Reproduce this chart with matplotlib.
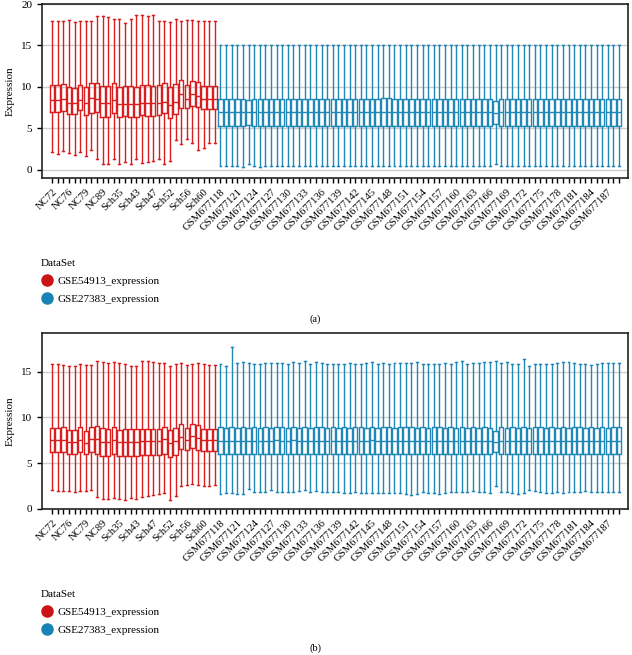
import matplotlib.pyplot as plt
from matplotlib.lines import Line2D

plt.rcParams['font.family'] = ['Liberation Serif', 'DejaVu Serif']

red = '#d81e1e'
blue = '#1f88b6'

nc_names = ['NC72', 'NC73', 'NC74', 'NC76', 'NC77', 'NC78', 'NC79', 'NC80', 'NC85',
            'NC89', 'NC90', 'NC91']
sch_names = ['Sch35', 'Sch36', 'Sch41', 'Sch43', 'Sch44', 'Sch45', 'Sch47', 'Sch48', 'Sch50',
             'Sch52', 'Sch53', 'Sch54', 'Sch56', 'Sch57', 'Sch58', 'Sch60', 'Sch61', 'Sch62']
gsm_names = ['GSM%d' % n for n in range(677118, 677190)]
samples = nc_names + sch_names + gsm_names
group_names = ['GSE54913_expression', 'GSE27383_expression']

# ---- panel (a): GSE54913 (30 samples) ----
a_red_hi = [18.0, 17.9, 18.0, 18.1, 17.8, 18.0, 17.9, 17.9, 18.55, 18.5, 18.45, 18.2, 18.2, 17.75, 18.15,
            18.65, 18.7, 18.55, 18.7, 18.0, 18.0, 17.85, 18.2, 18.0, 18.1, 18.1, 18.0, 17.9, 18.0, 18.0]
a_red_q3 = [10.25, 10.25, 10.3, 9.95, 9.9, 10.25, 9.95, 10.45, 10.5, 10.15, 10.1, 10.45, 10.0, 10.1, 10.1,
            10.0, 10.2, 10.25, 10.15, 10.2, 10.45, 9.95, 10.3, 10.85, 10.25, 10.7, 10.6, 10.1, 10.1, 10.1]
a_red_med = [8.4, 8.4, 8.5, 8.1, 8.1, 8.45, 8.1, 8.6, 8.5, 8.0, 8.0, 8.45, 7.9, 7.9, 7.9,
             7.9, 8.0, 8.0, 8.0, 8.1, 8.2, 7.8, 8.2, 9.1, 8.55, 9.1, 8.9, 8.5, 8.5, 8.5]
a_red_q1 = [7.0, 7.0, 7.1, 6.75, 6.75, 7.15, 6.6, 6.9, 7.0, 6.4, 6.4, 6.9, 6.35, 6.45, 6.4,
            6.35, 6.6, 6.5, 6.5, 6.6, 6.8, 6.25, 6.75, 7.45, 7.4, 7.7, 7.6, 7.35, 7.35, 7.35]
a_red_lo = [2.1, 1.9, 2.3, 2.0, 1.8, 2.1, 1.7, 2.4, 1.3, 0.7, 0.7, 1.3, 0.7, 0.9, 0.7,
            1.3, 0.8, 0.9, 1.0, 1.3, 0.7, 1.1, 3.6, 3.1, 3.7, 3.2, 2.4, 2.6, 3.2, 3.2]

# ---- panel (a): GSE27383 (72 samples) ----
a_blue_hi = [15.1, 15.1, 15.1, 15.1, 15.1, 15.05, 15.1, 15.1, 15.1, 15.1, 15.1, 15.1,
             15.1, 15.1, 15.1, 15.1, 15.1, 15.1, 15.1, 15.1, 15.1, 15.1, 15.1, 15.1,
             15.1, 15.1, 15.1, 15.1, 15.1, 15.1, 15.1, 15.1, 15.1, 15.1, 15.1, 15.1,
             15.1, 15.1, 15.1, 15.1, 15.1, 15.1, 15.1, 15.1, 15.1, 15.1, 15.1, 15.1,
             15.1, 15.05, 15.1, 15.1, 15.1, 15.1, 15.1, 15.1, 15.1, 15.1, 15.1, 15.1,
             15.1, 15.1, 15.1, 15.1, 15.1, 15.1, 15.1, 15.1, 15.1, 15.1, 15.1, 15.1]
a_blue_q3 = [8.55, 8.55, 8.55, 8.55, 8.55, 8.4, 8.55, 8.55, 8.55, 8.55, 8.55, 8.55,
             8.55, 8.55, 8.55, 8.55, 8.55, 8.55, 8.55, 8.55, 8.55, 8.55, 8.55, 8.55,
             8.55, 8.55, 8.55, 8.55, 8.55, 8.6, 8.6, 8.55, 8.55, 8.55, 8.55, 8.55,
             8.55, 8.55, 8.55, 8.55, 8.55, 8.55, 8.55, 8.55, 8.55, 8.55, 8.55, 8.55,
             8.55, 8.3, 8.55, 8.55, 8.55, 8.55, 8.55, 8.55, 8.55, 8.55, 8.55, 8.55,
             8.55, 8.55, 8.55, 8.55, 8.55, 8.55, 8.55, 8.55, 8.55, 8.55, 8.55, 8.55]
a_blue_med = [7.0, 7.0, 7.0, 7.0, 7.0, 6.95, 7.0, 7.0, 7.0, 7.0, 7.0, 7.0,
              7.0, 7.0, 7.0, 7.0, 7.0, 7.0, 7.0, 7.0, 7.0, 7.0, 7.0, 7.0,
              7.0, 7.0, 7.0, 7.0, 7.0, 7.0, 7.0, 7.0, 7.0, 7.0, 7.0, 7.0,
              7.0, 7.0, 7.0, 7.0, 7.0, 7.0, 7.0, 7.0, 7.0, 7.0, 7.0, 7.0,
              7.0, 6.85, 7.0, 7.0, 7.0, 7.0, 7.0, 7.0, 7.0, 7.0, 7.0, 7.0,
              7.0, 7.0, 7.0, 7.0, 7.0, 7.0, 7.0, 7.0, 7.0, 7.0, 7.0, 7.0]
a_blue_q1 = [5.3, 5.3, 5.3, 5.3, 5.3, 5.35, 5.3, 5.3, 5.3, 5.3, 5.3, 5.3,
             5.3, 5.3, 5.3, 5.3, 5.3, 5.3, 5.3, 5.3, 5.3, 5.3, 5.3, 5.3,
             5.3, 5.3, 5.3, 5.3, 5.3, 5.3, 5.3, 5.3, 5.3, 5.3, 5.3, 5.3,
             5.3, 5.3, 5.3, 5.3, 5.3, 5.3, 5.3, 5.3, 5.3, 5.3, 5.3, 5.3,
             5.3, 5.5, 5.3, 5.3, 5.3, 5.3, 5.3, 5.3, 5.3, 5.3, 5.3, 5.3,
             5.3, 5.3, 5.3, 5.3, 5.3, 5.3, 5.3, 5.3, 5.3, 5.3, 5.3, 5.3]
a_blue_lo = [0.45, 0.45, 0.5, 0.45, 0.35, 0.75, 0.45, 0.3, 0.45, 0.5, 0.45, 0.45,
             0.45, 0.5, 0.45, 0.45, 0.5, 0.45, 0.45, 0.45, 0.5, 0.45, 0.45, 0.5,
             0.45, 0.45, 0.5, 0.45, 0.45, 0.45, 0.5, 0.45, 0.45, 0.45, 0.5, 0.45,
             0.45, 0.5, 0.45, 0.45, 0.5, 0.45, 0.45, 0.5, 0.45, 0.45, 0.5, 0.45,
             0.45, 0.7, 0.45, 0.45, 0.4, 0.45, 0.5, 0.45, 0.45, 0.5, 0.45, 0.45,
             0.45, 0.5, 0.45, 0.45, 0.5, 0.45, 0.45, 0.5, 0.45, 0.45, 0.5, 0.45]

# ---- panel (b): GSE54913 ----
b_red_hi = [15.8, 15.8, 15.7, 15.6, 15.65, 15.8, 15.7, 15.7, 16.15, 16.0, 15.9, 16.0, 15.9, 15.8, 15.65,
            15.55, 16.15, 16.15, 16.0, 15.95, 15.9, 15.65, 15.8, 15.9, 15.7, 15.8, 15.9, 15.8, 15.7, 15.7]
b_red_q3 = [8.85, 8.85, 8.95, 8.6, 8.6, 8.9, 8.55, 9.0, 9.05, 8.8, 8.75, 8.95, 8.65, 8.7, 8.7,
            8.7, 8.75, 8.7, 8.7, 8.75, 9.0, 8.65, 8.85, 9.25, 8.85, 9.3, 9.15, 8.75, 8.75, 8.75]
b_red_med = [7.5, 7.5, 7.55, 7.35, 7.3, 7.5, 7.25, 7.6, 7.6, 7.35, 7.3, 7.55, 7.3, 7.3, 7.3,
             7.3, 7.4, 7.4, 7.4, 7.4, 7.6, 7.25, 7.4, 7.9, 7.55, 7.95, 7.8, 7.5, 7.5, 7.5]
b_red_q1 = [6.2, 6.2, 6.2, 6.05, 6.0, 6.2, 6.0, 6.2, 6.05, 5.75, 5.75, 5.95, 5.75, 5.75, 5.75,
            5.8, 5.85, 5.85, 5.85, 5.85, 6.0, 5.7, 5.9, 6.6, 6.45, 6.65, 6.45, 6.3, 6.3, 6.3]
b_red_lo = [2.1, 2.0, 2.0, 2.0, 1.9, 2.0, 2.0, 2.1, 1.3, 1.1, 1.1, 1.25, 1.1, 1.0, 1.25,
            1.1, 1.3, 1.45, 1.5, 1.6, 1.7, 1.0, 1.45, 2.55, 2.6, 2.75, 2.6, 2.55, 2.55, 2.6]

# ---- panel (b): GSE27383 ----
b_blue_hi = [15.85, 15.65, 17.7, 15.95, 16.0, 15.9, 15.85, 15.8, 15.95, 15.9, 15.95, 15.95,
             15.85, 16.0, 15.95, 16.1, 15.85, 16.0, 15.95, 15.85, 15.85, 15.85, 15.85, 15.95,
             15.85, 15.8, 15.95, 16.0, 15.85, 15.95, 15.85, 15.95, 15.95, 15.95, 15.95, 16.0,
             15.85, 15.85, 15.8, 15.85, 15.95, 15.85, 16.0, 16.1, 15.85, 15.95, 15.95, 16.0,
             16.0, 16.15, 15.95, 16.0, 15.85, 15.8, 16.4, 15.65, 15.85, 15.85, 15.8, 15.85,
             15.95, 16.0, 16.0, 15.95, 15.85, 15.8, 15.75, 15.8, 15.95, 15.95, 15.95, 15.95]
b_blue_q3 = [8.95, 8.85, 8.95, 8.85, 8.95, 8.8, 8.9, 8.85, 8.95, 8.85, 8.95, 8.9,
             8.85, 8.95, 8.85, 8.95, 8.85, 8.9, 8.95, 8.85, 8.9, 8.85, 8.95, 8.85,
             8.95, 8.9, 8.85, 8.95, 8.85, 8.9, 8.95, 8.85, 8.95, 9.0, 8.95, 8.85,
             8.95, 8.85, 8.9, 8.95, 8.85, 8.9, 8.85, 8.9, 8.85, 8.9, 8.85, 8.9,
             8.85, 8.5, 8.9, 8.85, 8.95, 8.85, 8.95, 8.85, 8.9, 8.95, 8.85, 8.9,
             8.85, 8.95, 8.85, 8.9, 8.95, 8.85, 8.9, 8.85, 8.9, 8.85, 8.9, 8.9]
b_blue_med = [7.45, 7.45, 7.45, 7.45, 7.45, 7.4, 7.45, 7.45, 7.45, 7.45, 7.5, 7.45,
              7.45, 7.5, 7.45, 7.45, 7.45, 7.45, 7.45, 7.4, 7.45, 7.45, 7.45, 7.45,
              7.45, 7.45, 7.45, 7.5, 7.45, 7.45, 7.45, 7.45, 7.45, 7.45, 7.45, 7.45,
              7.45, 7.45, 7.45, 7.45, 7.45, 7.45, 7.45, 7.45, 7.45, 7.45, 7.45, 7.45,
              7.45, 7.3, 7.45, 7.45, 7.45, 7.45, 7.45, 7.45, 7.45, 7.45, 7.45, 7.45,
              7.45, 7.45, 7.45, 7.45, 7.45, 7.45, 7.45, 7.45, 7.45, 7.45, 7.45, 7.45]
b_blue_q1 = [6.0, 6.0, 6.0, 6.0, 6.0, 6.05, 6.0, 6.0, 6.0, 6.0, 6.0, 6.0,
             6.0, 6.0, 6.0, 6.0, 6.0, 6.0, 6.0, 6.05, 6.0, 6.0, 6.0, 6.0,
             6.0, 6.0, 6.0, 6.0, 6.0, 6.0, 6.0, 6.0, 6.0, 6.0, 6.0, 6.0,
             6.0, 6.0, 6.0, 6.0, 6.0, 6.0, 6.0, 6.0, 6.0, 6.0, 6.0, 6.0,
             6.0, 6.2, 6.0, 6.0, 6.0, 6.0, 6.0, 6.0, 6.0, 6.0, 6.0, 6.0,
             6.0, 6.0, 6.0, 6.0, 6.0, 6.0, 6.0, 6.0, 6.0, 6.0, 6.0, 6.0]
b_blue_lo = [1.6, 1.7, 1.75, 1.6, 1.6, 2.2, 1.85, 1.85, 1.9, 2.05, 1.85, 1.85,
             1.9, 1.85, 1.95, 2.05, 1.9, 1.95, 1.85, 1.85, 1.9, 1.85, 1.7, 1.75,
             1.85, 1.7, 1.75, 1.75, 1.7, 1.75, 1.7, 1.75, 1.7, 1.6, 1.55, 1.6,
             1.85, 1.75, 1.7, 1.6, 1.75, 1.85, 1.85, 1.9, 1.9, 1.95, 1.9, 1.85,
             1.75, 2.55, 1.85, 1.85, 1.7, 1.6, 1.75, 2.05, 1.95, 1.85, 1.75, 1.75,
             1.85, 1.75, 1.85, 1.9, 1.85, 1.95, 1.9, 1.85, 1.85, 1.85, 1.85, 1.85]


def make_stats(lo, q1, med, q3, hi):
    return [dict(whislo=a, q1=b, med=c, q3=d, whishi=e, fliers=[])
            for a, b, c, d, e in zip(lo, q1, med, q3, hi)]


def draw_panel(ax, red_stats, blue_stats, ylim, yticks):
    n_red = len(red_stats)
    pos_red = list(range(1, n_red + 1))
    pos_blue = list(range(n_red + 1, n_red + len(blue_stats) + 1))
    for stats, pos, col in [(red_stats, pos_red, red), (blue_stats, pos_blue, blue)]:
        ax.bxp(stats, positions=pos, widths=0.8, capwidths=0.35, showfliers=False,
               boxprops=dict(color=col, lw=1.0),
               whiskerprops=dict(color=col, lw=1.0),
               capprops=dict(color=col, lw=1.0),
               medianprops=dict(color=col, lw=1.0))
    ax.set_xlim(-0.8, len(samples) + 1.6)
    ax.set_ylim(*ylim)
    ax.set_yticks(yticks)
    ax.set_xticks(range(1, len(samples) + 1))
    ax.set_xticklabels([s if i % 3 == 0 else '' for i, s in enumerate(samples)],
                       rotation=45, ha='right', rotation_mode='anchor', fontsize=7.7)
    ax.tick_params(axis='y', labelsize=8, length=3.5, width=1, color='black')
    ax.tick_params(axis='x', length=3.5, width=1, color='black', pad=3)
    ax.yaxis.grid(True, color='#cccccc', lw=1)
    ax.set_axisbelow(True)
    ax.set_ylabel('Expression', fontsize=8, labelpad=5)
    for sp in ax.spines.values():
        sp.set_color('#222222')
        sp.set_linewidth(1.2)


fig = plt.figure(figsize=(6.32, 6.55), dpi=100)
ax_a = fig.add_axes([42 / 632, 1 - 178 / 655, 586 / 632, 174 / 655])
ax_b = fig.add_axes([42 / 632, 1 - 509 / 655, 586 / 632, 176 / 655])

draw_panel(ax_a, make_stats(a_red_lo, a_red_q1, a_red_med, a_red_q3, a_red_hi),
           make_stats(a_blue_lo, a_blue_q1, a_blue_med, a_blue_q3, a_blue_hi),
           (-1, 20), [0, 5, 10, 15, 20])
draw_panel(ax_b, make_stats(b_red_lo, b_red_q1, b_red_med, b_red_q3, b_red_hi),
           make_stats(b_blue_lo, b_blue_q1, b_blue_med, b_blue_q3, b_blue_hi),
           (0, 19.2), [0, 5, 10, 15])

handles = [Line2D([], [], marker='o', ls='', color=c, markersize=8) for c in ['#cc1414', '#1a82b4']]
for ytop in [1 - 251 / 655, 1 - 582 / 655]:
    fig.legend(handles, group_names, title='DataSet', loc='upper left',
               bbox_to_anchor=(33 / 632, ytop), frameon=False, fontsize=8,
               title_fontsize=8, alignment='left', handletextpad=0.3,
               labelspacing=0.75, handlelength=1.2, borderpad=0.2)

fig.text(315 / 632, 1 - 319 / 655, '(a)', ha='center', va='center', fontsize=7.5)
fig.text(315 / 632, 1 - 648 / 655, '(b)', ha='center', va='center', fontsize=7.5)

fig.savefig('out.png', dpi=100)
